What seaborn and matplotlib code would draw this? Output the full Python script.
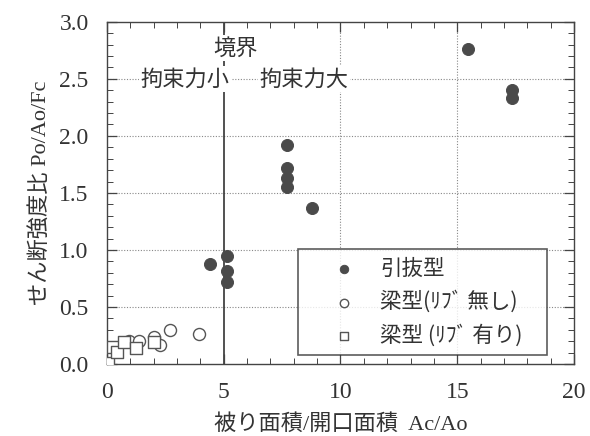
import numpy as np
import pandas as pd
import matplotlib
matplotlib.use("Agg")
import matplotlib.pyplot as plt
import seaborn as sns
from matplotlib.ticker import MultipleLocator, FormatStrFormatter

# 引抜型 (filled circles)
pull_x = [4.4, 5.15, 5.15, 5.15, 7.7, 7.7, 7.7, 7.7, 8.8, 15.45, 17.35, 17.35]
pull_y = [0.88, 0.95, 0.82, 0.72, 1.92, 1.72, 1.63, 1.55, 1.37, 2.76, 2.40, 2.33]

# 梁型(リブ無し) (open circles)
beam_x = [0.95, 1.38, 2.0, 2.28, 2.7, 3.94]
beam_y = [0.20, 0.20, 0.24, 0.17, 0.30, 0.26]

# 梁型(リブ有り) (open squares)
rib_x = [0.05, 0.25, 0.45, 0.75, 1.24, 2.0]
rib_y = [0.01, 0.15, 0.11, 0.19, 0.14, 0.19]

labels = ["引抜型", "梁型(ﾘﾌﾞ 無し)", "梁型 (ﾘﾌﾞ 有り)"]

sns.set_style("ticks", {
    "xtick.direction": "in", "ytick.direction": "in",
    "xtick.top": True, "ytick.right": True,
    "axes.axisbelow": False,
})
plt.rcParams['font.family'] = ['Liberation Serif', 'Noto Sans CJK JP']
jp = ['Noto Sans CJK JP', 'Liberation Serif']

fig = plt.figure(figsize=(5.9, 4.36), dpi=100)
ax = fig.add_axes([0.181, 0.165, 0.792, 0.785])

pull = pd.DataFrame({"x": pull_x, "y": pull_y})
beam = pd.DataFrame({"x": beam_x, "y": beam_y})
rib = pd.DataFrame({"x": rib_x, "y": rib_y})

sns.scatterplot(data=pull, x="x", y="y", ax=ax, marker="o", s=75,
                color="#4a4a4a", edgecolor="#4a4a4a", label=labels[0], zorder=4)
sns.scatterplot(data=beam, x="x", y="y", ax=ax, marker="o", s=75,
                facecolor="white", edgecolor="#555555", linewidth=1.0,
                label=labels[1], zorder=4)
sns.scatterplot(data=rib, x="x", y="y", ax=ax, marker="s", s=75,
                facecolor="white", edgecolor="#555555", linewidth=1.0,
                label=labels[2], zorder=5)

ax.set_xlim(0, 20)
ax.set_ylim(0, 3.0)
ax.set_xticks([0, 5, 10, 15, 20])
ax.set_yticks([0, 0.5, 1.0, 1.5, 2.0, 2.5, 3.0])
ax.yaxis.set_major_formatter(FormatStrFormatter("%.1f"))
ax.xaxis.set_minor_locator(MultipleLocator(1))
ax.yaxis.set_minor_locator(MultipleLocator(0.1))

for sp in ax.spines.values():
    sp.set_color("#444444")
    sp.set_linewidth(1.0)

# dotted grid
for yv in [0.5, 1.0, 1.5, 2.0, 2.5]:
    ax.axhline(yv, color="#888888", linestyle=(0, (1, 1.5)), linewidth=0.8, zorder=1)
for xv in [10, 15]:
    ax.axvline(xv, color="#888888", linestyle=(0, (1, 1.5)), linewidth=0.8, zorder=1)

# boundary line at 5
ax.axvline(5, color="#333333", linewidth=1.2, zorder=2)

box = dict(facecolor="white", edgecolor="none", pad=1)
ax.text(5.5, 2.77, "境界", ha="center", va="center", fontsize=16,
        family=jp, color="#333333", bbox=box, zorder=3)
ax.text(5.25, 2.5, "拘束力小", ha="right", va="center", fontsize=16,
        family=jp, color="#333333", bbox=box, zorder=3)
ax.text(6.55, 2.5, "拘束力大", ha="left", va="center", fontsize=16,
        family=jp, color="#333333", bbox=box, zorder=3)

ax.set_xlabel("被り面積/開口面積  Ac/Ao", fontsize=16, color="#333333", labelpad=8)
ax.set_ylabel("せん断強度比 Po/Ao/Fc", fontsize=16, color="#333333", labelpad=6)

leg = ax.legend(loc="upper left", bbox_to_anchor=(0.409, 0.336, 0.533, 0.0),
                mode="expand", frameon=True, fancybox=False,
                prop={"family": jp, "size": 15.5}, markerscale=0.7,
                handlelength=3.4, handletextpad=0.0, borderpad=0.42,
                labelspacing=0.49, borderaxespad=0)
leg.get_frame().set_edgecolor("#333333")
leg.get_frame().set_linewidth(1.2)
for txt in leg.get_texts():
    txt.set_color("#333333")
leg.set_zorder(6)

# ticks inward on all four sides
ax.set_axisbelow(False)
ax.tick_params(which="both", direction="in", top=True, right=True,
               bottom=True, left=True, color="#444444")
ax.tick_params(which="major", length=7, width=0.9, labelsize=17, pad=13,
               labelcolor="#333333")
ax.tick_params(which="minor", length=4, width=0.7)

# force the tick lines on (they were getting lost)
fig.canvas.draw()
for axis in (ax.xaxis, ax.yaxis):
    for ticks, size, width in ((axis.get_major_ticks(), 7, 0.9),
                               (axis.get_minor_ticks(), 4, 0.7)):
        for tk in ticks:
            for ln in (tk.tick1line, tk.tick2line):
                ln.set_visible(True)
                ln.set_markersize(size)
                ln.set_markeredgewidth(width)
                ln.set_color("#444444")
                ln.set_markeredgecolor("#444444")
                ln.set_alpha(1)

fig.savefig("out.png", dpi=100)
